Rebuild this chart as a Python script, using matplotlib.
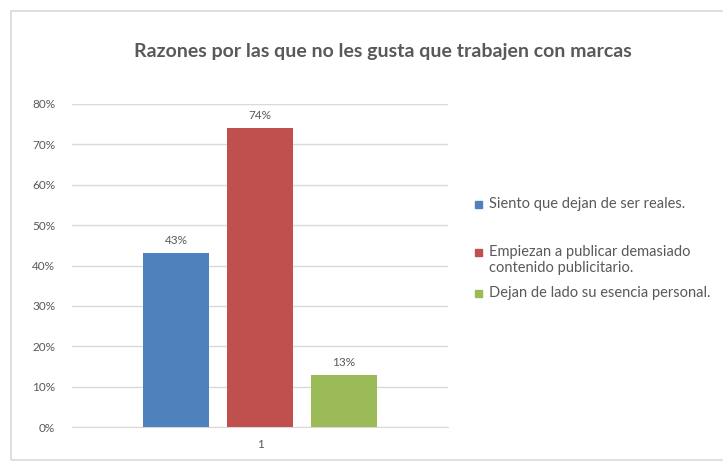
import matplotlib.pyplot as plt
from matplotlib.patches import Rectangle
from matplotlib.ticker import PercentFormatter

# Survey answers, one group with three reasons
categories = ["1"]
reasons = ["Siento que dejan de ser reales.",
           "Empiezan a publicar demasiado\ncontenido publicitario.",
           "Dejan de lado su esencia personal."]
values = [43, 74, 13]
colors = ["#4f81bd", "#c0504d", "#9bbb59"]
yticks = [0, 10, 20, 30, 40, 50, 60, 70, 80]

text_gray = "#595959"
grid_gray = "#d9d9d9"

plt.rcParams["font.family"] = ["Lato", "DejaVu Sans"]

W, H = 723, 463
fig = plt.figure(figsize=(W / 100, H / 100), dpi=100)

# outer chart frame
fig.patches.append(Rectangle((11 / W, 1 - 460 / H), 1.0, (460 - 11) / H,
                             transform=fig.transFigure, fill=False,
                             edgecolor=grid_gray, linewidth=1.2))

ax = fig.add_axes([72 / W, 1 - 427 / H, 376 / W, 323 / H])

offsets = [-1, 0, 1]
width = 0.786
for off, val, col in zip(offsets, values, colors):
    ax.bar(off, val, width=width, color=col, zorder=3)
    ax.annotate(f"{val}%", (off, val), xytext=(0, 5), textcoords="offset points",
                ha="center", va="bottom", fontsize=8.5, color=text_gray)

ax.set_ylim(0, 80)
ax.set_xlim(-2.238, 2.238)
ax.set_yticks(yticks)
ax.yaxis.set_major_formatter(PercentFormatter(decimals=0))
ax.set_xticks([0])
ax.set_xticklabels(categories)
ax.grid(axis="y", color=grid_gray, linewidth=1, zorder=0)
for s in ["top", "right", "left"]:
    ax.spines[s].set_visible(False)
ax.spines["bottom"].set_color(grid_gray)
ax.tick_params(axis="both", length=0, colors=text_gray, labelsize=8.5)
ax.tick_params(axis="y", pad=12)
ax.tick_params(axis="x", pad=9)

fig.text(383 / W, 1 - 52 / H, "Razones por las que no les gusta que trabajen con marcas",
         ha="center", va="center", fontsize=14, fontweight="bold", color=text_gray)

# legend entries on the right
leg_y = [204, 252, 293]
for lab, col, y in zip(reasons, colors, leg_y):
    fig.patches.append(Rectangle((475 / W, 1 - (y + 4) / H), 7 / W, 7 / H,
                                 transform=fig.transFigure, color=col))
    fig.text(489 / W, 1 - (y - 7 if "\n" in lab else y) / H, lab, ha="left",
             va="top" if "\n" in lab else "center",
             fontsize=10.5, color=text_gray, linespacing=1.2)

fig.savefig("out.png", dpi=100)
